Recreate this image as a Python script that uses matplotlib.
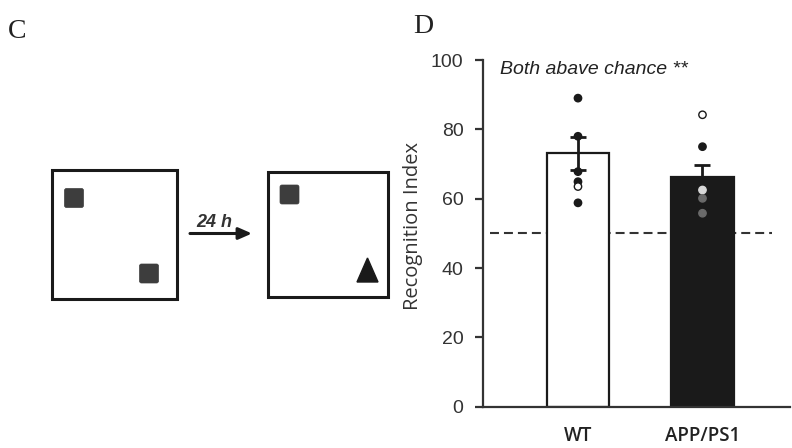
import numpy as np
import matplotlib.pyplot as plt
from matplotlib.patches import Rectangle, FancyBboxPatch, Polygon

# data
groups = ["WT", "APP/PS1"]
means = [73.1, 66.3]
sems = [4.8, 3.4]
wt_points = [89.0, 78.0, 67.8, 64.9, 63.5, 58.8]
wt_face = ["#1a1a1a", "#1a1a1a", "#1a1a1a", "#1a1a1a", "white", "#1a1a1a"]
app_points = [84.2, 75.0, 62.5, 60.1, 55.8]
app_face = ["white", "#1a1a1a", "#d8d8d8", "#6a6a6a", "#6a6a6a"]
chance = 50

W, H = 792, 448
fig = plt.figure(figsize=(W / 100, H / 100), dpi=100)

# ---- panel C: schematic drawn in pixel space
axc = fig.add_axes([0, 0, 1, 1])
axc.set_xlim(0, W)
axc.set_ylim(H, 0)
axc.axis("off")
axc.text(8, 38, "C", fontsize=20, family="Liberation Serif", color="#222222", va="baseline")
axc.text(413, 33, "D", fontsize=20, family="Liberation Serif", color="#222222", va="baseline")

axc.add_patch(Rectangle((52, 170), 125, 129, fill=False, lw=2.2, ec="#1a1a1a"))
axc.add_patch(Rectangle((268, 172), 120, 125, fill=False, lw=2.2, ec="#1a1a1a"))
for (x, y) in [(64.5, 188.5), (139.5, 264), (280, 185)]:
    axc.add_patch(FancyBboxPatch((x + 2, y + 2), 15, 15, boxstyle="round,pad=2",
                                 fc="#3d3d3d", ec="#3d3d3d", lw=0.5))
axc.add_patch(Polygon([(357, 282), (378, 282), (367.5, 258)], closed=True,
                      fc="#1a1a1a", ec="#1a1a1a"))
axc.annotate("", xy=(252, 233.5), xytext=(190, 233.5),
             arrowprops=dict(arrowstyle="-|>,head_length=0.8,head_width=0.35",
                             lw=2.2, color="#1a1a1a", shrinkA=0, shrinkB=0))
axc.text(214, 227, "24 h", fontsize=13, style="italic", fontweight="bold",
         color="#333333", ha="center", va="baseline", family="Liberation Sans")

# ---- panel D: bar chart
ax = fig.add_axes([483 / W, (H - 406.7) / H, 307 / W, 346.7 / H])
x = np.arange(len(groups))
ax.bar(x, means, width=0.5, color=["white", "#1a1a1a"], edgecolor="#1a1a1a",
       linewidth=1.6, zorder=2)
ax.errorbar(x, means, yerr=sems, fmt="none", ecolor="#1a1a1a", elinewidth=2,
            capsize=6, capthick=2, zorder=3)
ax.scatter([x[0]] * len(wt_points), wt_points, s=28, c=wt_face,
           edgecolors="#1a1a1a", linewidths=1, zorder=4)
ax.scatter([x[1]] * len(app_points), app_points, s=28, c=app_face,
           edgecolors=["#1a1a1a", "#1a1a1a", "#d8d8d8", "#6a6a6a", "#6a6a6a"],
           linewidths=1, zorder=4)
ax.hlines(chance, -0.707, 1.558, colors="#333333", linestyles=(0, (4.3, 2.4)),
          linewidth=1.5, zorder=1)

ax.set_xlim(-0.763, 1.703)
ax.set_ylim(0, 100)
ax.set_yticks([0, 20, 40, 60, 80, 100])
ax.set_xticks(x)
ax.set_xticklabels(groups, family="Open Sans", fontweight="semibold")
for s in ["top", "right"]:
    ax.spines[s].set_visible(False)
for s in ["left", "bottom"]:
    ax.spines[s].set_linewidth(1.6)
    ax.spines[s].set_color("#333333")
ax.tick_params(axis="y", length=6, width=1.6, color="#333333", labelsize=14,
               labelcolor="#333333", pad=8)
ax.tick_params(axis="x", length=0, labelsize=13.5, labelcolor="#222222", pad=14)
for lab in ax.get_yticklabels():
    lab.set_family("Liberation Sans")
ax.set_ylabel("Recognition Index", fontsize=14.5, family="Open Sans",
              color="#333333")
ax.yaxis.set_label_coords((423 - 483) / 307, 0.52)
ax.text(-0.625, 97.2, "Both abave chance **", fontsize=14, style="italic",
        family="Liberation Sans", color="#222222", va="center")
ax.patch.set_alpha(0)

fig.savefig("out.png", dpi=100)
